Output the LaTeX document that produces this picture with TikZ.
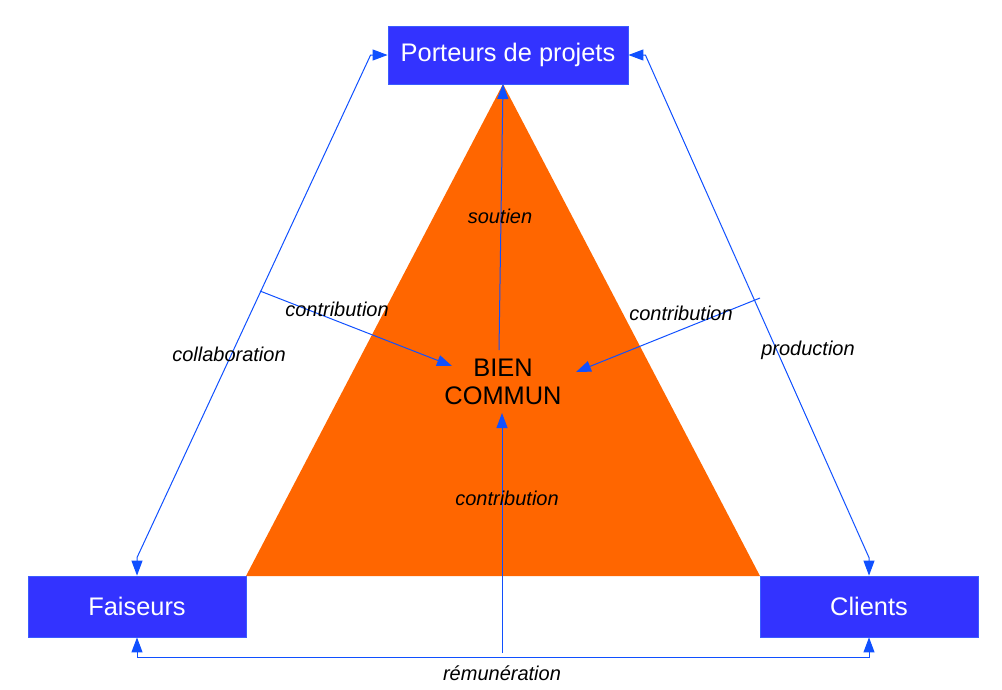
\documentclass[tikz,border=0pt]{standalone}
\usepackage{fontspec}
\setmainfont{Liberation Sans}
\usetikzlibrary{arrows.meta,calc}
\definecolor{boxblue}{HTML}{3333FF}
\definecolor{boxedge}{HTML}{3A5CFF}
\definecolor{linkblue}{HTML}{1050FF}
\definecolor{triorange}{HTML}{FF6600}
\begin{document}
\begin{tikzpicture}[x=1pt,y=-1pt,
  actor/.style={draw=boxedge,fill=boxblue,text=white,inner sep=0pt,line width=0.8pt,
    font=\fontsize{25.4}{28}\selectfont},
  lbl/.style={font=\itshape\fontsize{20}{22}\selectfont,inner sep=0pt},
  link/.style={draw=linkblue,line width=1pt},
  tip/.style={-{Triangle[length=15pt,width=11pt]}},
  tips/.style={{Triangle[length=15pt,width=11pt]}-{Triangle[length=15pt,width=11pt]}}]
\useasboundingbox (0,0) rectangle (1002,689);
% triangle
\fill[triorange] (503,84) -- (246,576) -- (760,576) -- cycle;
\coordinate (apex) at (503,84);
% boxes
\node[actor,minimum width=240pt,minimum height=58pt] (P) at (508,55) {Porteurs de projets};
\node[actor,minimum width=218pt,minimum height=61pt] (F) at (137,606.5) {Faiseurs};
\node[actor,minimum width=218pt,minimum height=61pt] (C) at (869,606.5) {Clients};
\node[align=center,inner sep=0pt,font=\fontsize{25.4}{27.5}\selectfont] (bc) at (503,382) {BIEN\\COMMUN};
% collaboration
\draw[link,tips] (F.north) -- ($(F.north)+(0,-18)$) -- ($(P.west)+(-17,0)$) -- (P.west);
% production
\draw[link,tips] (P.east) -- ($(P.east)+(17,0)$) -- ($(C.north)+(0,-18)$) -- (C.north);
% remuneration
\draw[link,tips] (F.south) -- ($(F.south)+(0,20)$) -- ($(C.south)+(0,20)$) -- (C.south);
% contributions
\coordinate (cl) at (260,291);
\coordinate (clt) at (452,366);
\coordinate (cr) at (760,298);
\coordinate (crt) at (576,372);
\coordinate (cb) at (502,653);
\coordinate (cbt) at (502,413);
\coordinate (so) at (499,350);
\draw[link,tip] (cl) -- (clt);
\draw[link,tip] (cr) -- (crt);
\draw[link,tip] (cb) -- (cbt);
\draw[link,tip] (so) -- (apex);
% labels
\node[lbl] (l1) at (500,216) {soutien};
\node[lbl] (l2) at (337,309) {contribution};
\node[lbl] (l3) at (681,313) {contribution};
\node[lbl] (l4) at (229,354) {collaboration};
\node[lbl] (l5) at (808,350) {production};
\node[lbl] (l6) at (507,498) {contribution};
\node[lbl] (l7) at (502,673) {rémunération};
\end{tikzpicture}
\end{document}
